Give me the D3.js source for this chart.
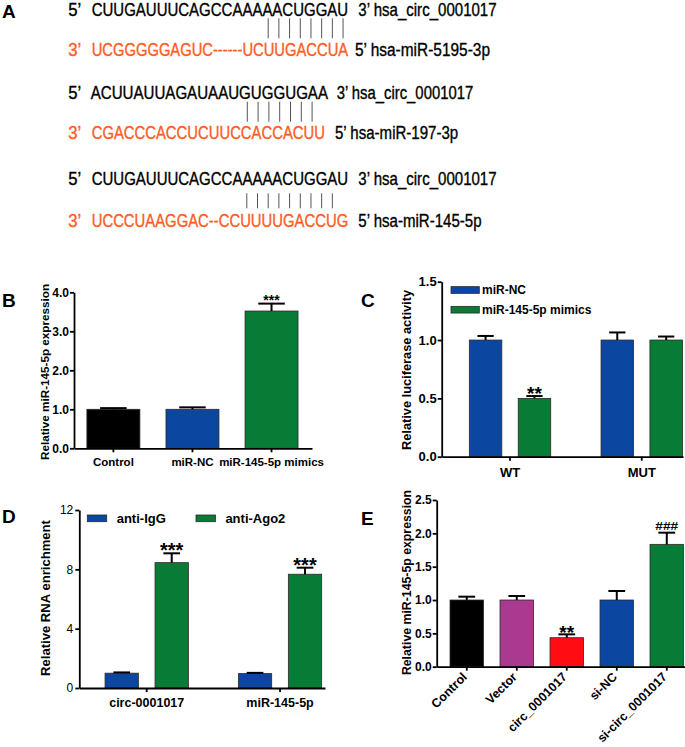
<!DOCTYPE html>
<html>
<head>
<meta charset="utf-8">
<script src="https://cdn.jsdelivr.net/npm/d3@7"></script>
<style>
  html, body { margin: 0; padding: 0; background: #fff; }
  svg { display: block; }
  text { font-family: "Liberation Sans", Arial, Helvetica, sans-serif; }
</style>
</head>
<body>
<svg id="fig" width="685" height="747"></svg>
<script>
// ---------------- DATA ----------------
// Panel A: sequence alignments
const seqPrimes = ["5’", "3’", "5’", "3’", "5’", "3’"];
const seqStrings = [
  "CUUGAUUUCAGCCAAAAACUGGAU",
  "UCGGGGGAGUC------UCUUGACCUA",
  "ACUUAUUAGAUAAUGUGGUGAA",
  "CGACCCACCUCUUCCACCACUU",
  "CUUGAUUUCAGCCAAAAACUGGAU",
  "UCCCUAAGGAC--CCUUUUGACCUG"
];
const seqNames = [
  "3’ hsa_circ_0001017",
  "5’ hsa-miR-5195-3p",
  "3’ hsa_circ_0001017",
  "5’ hsa-miR-197-3p",
  "3’ hsa_circ_0001017",
  "5’ hsa-miR-145-5p"
];
const pairStart = [16, 14, 14];   // first paired nucleotide index in circ row
const pairCount = [8, 7, 9];      // number of base-pair lines

// Panel B
const bCats = ["Control", "miR-NC", "miR-145-5p mimics"];
const bVals = [1.0, 1.0, 3.52];
const bErrs = [0.03, 0.05, 0.19];
const bSig  = ["", "", "***"];
const bTicks = [0, 1, 2, 3, 4];

// Panel C
const cGroups = ["WT", "MUT"];
const cSeries = ["miR-NC", "miR-145-5p mimics"];
const cNC     = [1.0, 1.0];
const cNCErr  = [0.035, 0.065];
const cMim    = [0.5, 1.0];
const cMimErr = [0.02, 0.03];
const cSig    = [["", "**"], ["", ""]];
const cTicks  = [0, 0.5, 1.0, 1.5];

// Panel D
const dGroups = ["circ-0001017", "miR-145-5p"];
const dSeries = ["anti-IgG", "anti-Ago2"];
const dIgG    = [1.0, 0.97];
const dIgGErr = [0.05, 0.05];
const dAgo    = [8.45, 7.67];
const dAgoErr = [0.63, 0.44];
const dSig    = [["", "***"], ["", "***"]];
const dTicks  = [0, 4, 8, 12];

// Panel E
const eCats  = ["Control", "Vector", "circ_0001017", "si-NC", "si-circ_0001017"];
const eVals  = [1.0, 1.0, 0.435, 1.0, 1.835];
const eErrs  = [0.05, 0.06, 0.05, 0.135, 0.175];
const eSig   = ["", "", "**", "", "###"];
const eTicks = [0, 0.5, 1.0, 1.5, 2.0, 2.5];

// ---------------- STYLE ----------------
const BLACK = "#000000", BLUE = "#0b47a1", GREEN = "#087b37",
      PURPLE = "#aa3a90", RED = "#ff0d12", ORANGE = "#ff5c1e";
const FONT = '"Liberation Sans", Arial, Helvetica, sans-serif';

const svg = d3.select("#fig");

function panelLetter(t, x, y) {
  svg.append("text").attr("x", x).attr("y", y).text(t)
    .attr("font-size", 19).attr("font-weight", "bold").attr("fill", "#000");
}

function styleAxis(g, fs, weight) {
  g.select(".domain").attr("stroke", "#000").attr("stroke-width", 1.8);
  g.selectAll(".tick line").attr("stroke", "#000").attr("stroke-width", 1.8);
  g.selectAll(".tick text").attr("font-size", fs).attr("font-weight", weight)
    .attr("fill", "#000").attr("font-family", FONT);
}

function yLabel(t, x, cy, fs) {
  svg.append("text").attr("transform", `translate(${x},${cy}) rotate(-90)`)
    .attr("text-anchor", "middle").attr("font-size", fs).attr("font-weight", "bold")
    .attr("fill", "#000").text(t);
}

function bar(g, x, w, y, y0, color) {
  g.append("rect").attr("x", x).attr("y", y).attr("width", w).attr("height", y0 - y)
    .attr("fill", color).attr("stroke", "#2a2a2a").attr("stroke-width", 0.8);
}

function errBar(g, cx, w, yTop, yErr) {
  g.append("line").attr("x1", cx).attr("x2", cx).attr("y1", yTop).attr("y2", yErr)
    .attr("stroke", "#000").attr("stroke-width", 2);
  g.append("line").attr("x1", cx - w / 4).attr("x2", cx + w / 4).attr("y1", yErr).attr("y2", yErr)
    .attr("stroke", "#000").attr("stroke-width", 2);
}

function sig(g, t, cx, yErr, fs, off) {
  if (!t) return;
  g.append("text").attr("x", cx).attr("text-anchor", "middle")
    .attr("font-size", fs).attr("font-weight", "bold").attr("fill", "#000").text(t)
    .attr("y", yErr - off + 0.57 * fs);
}

// ---------------- PANEL A ----------------
panelLetter("A", 2, 18);
const aBase = [16, 56, 99, 139, 185, 227];
const aSeqX = [91.7, 91.7, 90.7, 91.7, 91.7, 91.7];
const aSeqW = [256.7, 256.7, 237.6, 233.3, 256.7, 256.7];
const aNameX = [358.3, 355, 336.7, 335, 358.3, 358.3];
const aNameW = [138.4, 135, 136.6, 123.3, 138.4, 123.4];
const aFS = 17.5;
const gA = svg.append("g");

// draw text squeezed horizontally to a target width (narrow-font look)
function narrowText(t, x, y, w, col) {
  const el = gA.append("text").attr("x", 0).attr("y", 0).attr("font-size", aFS)
    .attr("fill", col).attr("stroke", col).attr("stroke-width", 0.35).text(t);
  const nat = el.node().getComputedTextLength();
  el.attr("transform", `translate(${x},${y}) scale(${w / nat},1)`);
}

seqStrings.forEach((s, i) => {
  const isMiR = i % 2 === 1;
  const col = isMiR ? ORANGE : BLACK;
  narrowText(seqPrimes[i], 68.3, aBase[i], 13.0, col);
  narrowText(s, aSeqX[i], aBase[i], aSeqW[i], col);
  narrowText(seqNames[i], aNameX[i], aBase[i], aNameW[i], BLACK);
});
// base-pair lines
const pairY = [[18.3, 38.3], [101.7, 121.7], [193.3, 208.3]];
pairStart.forEach((st, k) => {
  const row = k * 2;
  const s = seqStrings[row];
  const cw = aSeqW[row] / s.length;
  d3.range(pairCount[k]).forEach(j => {
    const cx = aSeqX[row] + (st + j + 0.5) * cw;
    gA.append("line").attr("x1", cx).attr("x2", cx)
      .attr("y1", pairY[k][0]).attr("y2", pairY[k][1])
      .attr("stroke", "#555").attr("stroke-width", 1);
  });
});

// ---------------- PANEL B ----------------
panelLetter("B", 2, 307);
(function () {
  const g = svg.append("g");
  const y = d3.scaleLinear().domain([0, 4]).range([448.3, 292.3]);
  const x = d3.scaleBand().domain(bCats).range([74, 312]).paddingInner(0.33).paddingOuter(0.17).align(0.48);
  const colors = [BLACK, BLUE, GREEN];
  bCats.forEach((c, i) => {
    bar(g, x(c), x.bandwidth(), y(bVals[i]), y(0), colors[i]);
    const cx = x(c) + x.bandwidth() / 2;
    errBar(g, cx, x.bandwidth(), y(bVals[i]), y(bVals[i] + bErrs[i]));
    sig(g, bSig[i], cx, y(bVals[i] + bErrs[i]), 14, 6.6);
  });
  const ya = g.append("g").attr("transform", "translate(74,0)")
    .call(d3.axisLeft(y).tickValues(bTicks).tickFormat(d3.format(".1f")).tickSize(4).tickPadding(1).tickSizeOuter(0));
  styleAxis(ya, 12, "bold");
  const xa = g.append("g").attr("transform", `translate(0,${y(0)})`)
    .call(d3.axisBottom(x).tickSize(4).tickPadding(5.5).tickSizeOuter(0));
  styleAxis(xa, 11.5, "bold");
  yLabel("Relative miR-145-5p expression", 49, 372, 11.7);
})();

// ---------------- PANEL C ----------------
panelLetter("C", 361, 307);
(function () {
  const g = svg.append("g");
  const y = d3.scaleLinear().domain([0, 1.5]).range([456.7, 281.7]);
  const x0 = d3.scaleBand().domain(cGroups).range([441.7, 683]).paddingInner(0.382).paddingOuter(0.107).align(0.98);
  const x1 = d3.scaleBand().domain(cSeries).range([0, x0.bandwidth()]).paddingInner(0.335);
  const series = [[cNC, cNCErr, BLUE], [cMim, cMimErr, GREEN]];
  cGroups.forEach((gr, i) => {
    cSeries.forEach((s, j) => {
      const [vals, errs, col] = series[j];
      const bx = x0(gr) + x1(s);
      bar(g, bx, x1.bandwidth(), y(vals[i]), y(0), col);
      const cx = bx + x1.bandwidth() / 2;
      errBar(g, cx, x1.bandwidth(), y(vals[i]), y(vals[i] + errs[i]));
      sig(g, cSig[i][j], cx, y(vals[i] + errs[i]), 19, 6.4);
    });
  });
  const ya = g.append("g").attr("transform", "translate(441.7,0)")
    .call(d3.axisLeft(y).tickValues(cTicks).tickFormat(d3.format(".1f")).tickSize(4).tickPadding(1).tickSizeOuter(0));
  styleAxis(ya, 13, "bold");
  const xa = g.append("g").attr("transform", `translate(0,${y(0)})`)
    .call(d3.axisBottom(x0).tickSize(4).tickPadding(6.6).tickSizeOuter(0));
  styleAxis(xa, 13, "bold");
  yLabel("Relative luciferase activity", 411, 370, 12.8);
  // legend
  const lc = [BLUE, GREEN], ly = [290, 309.7];
  cSeries.forEach((s, j) => {
    g.append("rect").attr("x", 451).attr("y", ly[j] - 3.35).attr("width", 28.3).attr("height", 6.7)
      .attr("fill", lc[j]).attr("stroke", "#2a2a2a").attr("stroke-width", 0.8);
    g.append("text").attr("x", 482).attr("y", ly[j] + 4.3).attr("font-size", 12)
      .attr("font-weight", "bold").attr("fill", "#000").text(s);
  });
})();

// ---------------- PANEL D ----------------
panelLetter("D", 2, 523);
(function () {
  const g = svg.append("g");
  const y = d3.scaleLinear().domain([0, 12]).range([688, 510]);
  const x0 = d3.scaleBand().domain(dGroups).range([79.3, 325]).paddingInner(0.375).paddingOuter(0.109).align(0.886);
  const x1 = d3.scaleBand().domain(dSeries).range([0, x0.bandwidth()]).paddingInner(0.333);
  const series = [[dIgG, dIgGErr, BLUE], [dAgo, dAgoErr, GREEN]];
  dGroups.forEach((gr, i) => {
    dSeries.forEach((s, j) => {
      const [vals, errs, col] = series[j];
      const bx = x0(gr) + x1(s);
      bar(g, bx, x1.bandwidth(), y(vals[i]), y(0), col);
      const cx = bx + x1.bandwidth() / 2;
      errBar(g, cx, x1.bandwidth(), y(vals[i]), y(vals[i] + errs[i]));
      sig(g, dSig[i][j], cx, y(vals[i] + errs[i]), 20, 7.5);
    });
  });
  const ya = g.append("g").attr("transform", "translate(79.3,0)")
    .call(d3.axisLeft(y).tickValues(dTicks).tickFormat(d3.format("d")).tickSize(4).tickPadding(2).tickSizeOuter(0));
  styleAxis(ya, 12, "normal");
  const xa = g.append("g").attr("transform", `translate(0,${y(0)})`)
    .call(d3.axisBottom(x0).tickSize(4).tickPadding(6.1).tickSizeOuter(0));
  styleAxis(xa, 12.5, "bold");
  yLabel("Relative RNA enrichment", 50, 598, 13.1);
  // legend
  const lx = [87.3, 196], lc = [BLUE, GREEN];
  dSeries.forEach((s, j) => {
    g.append("rect").attr("x", lx[j]).attr("y", 515).attr("width", 19.4).attr("height", 6.7)
      .attr("fill", lc[j]).attr("stroke", "#2a2a2a").attr("stroke-width", 0.8);
    g.append("text").attr("x", lx[j] + 29.4).attr("y", 523).attr("font-size", 13)
      .attr("font-weight", "bold").attr("fill", "#000").text(s);
  });
})();

// ---------------- PANEL E ----------------
panelLetter("E", 361, 525);
(function () {
  const g = svg.append("g");
  const y = d3.scaleLinear().domain([0, 2.5]).range([666.7, 500]);
  const x = d3.scaleBand().domain(eCats).range([436.7, 685]).paddingInner(0.33).paddingOuter(0.148).align(0.9);
  const colors = [BLACK, PURPLE, RED, BLUE, GREEN];
  eCats.forEach((c, i) => {
    bar(g, x(c), x.bandwidth(), y(eVals[i]), y(0), colors[i]);
    const cx = x(c) + x.bandwidth() / 2;
    errBar(g, cx, x.bandwidth(), y(eVals[i]), y(eVals[i] + eErrs[i]));
    if (eSig[i] === "###") {
      g.append("text").attr("x", cx).attr("text-anchor", "middle")
        .attr("y", y(eVals[i] + eErrs[i]) - 7 + 3.9)
        .attr("font-size", 11).attr("font-weight", "bold").attr("fill", "#000")
        .attr("transform", `translate(${cx},0) scale(1.25,1) translate(${-cx},0)`)
        .text(eSig[i]);
    } else {
      sig(g, eSig[i], cx, y(eVals[i] + eErrs[i]), 19, 6);
    }
  });
  const ya = g.append("g").attr("transform", "translate(436.7,0)")
    .call(d3.axisLeft(y).tickValues(eTicks).tickFormat(d3.format(".1f")).tickSize(4).tickPadding(1).tickSizeOuter(0));
  styleAxis(ya, 12, "bold");
  const xa = g.append("g").attr("transform", `translate(0,${y(0)})`)
    .call(d3.axisBottom(x).tickSize(4).tickSizeOuter(0));
  styleAxis(xa, 12.5, "bold");
  xa.selectAll(".tick text")
    .attr("text-anchor", "end").attr("dy", null).attr("y", null)
    .attr("transform", "translate(1,11) rotate(-45)");
  yLabel("Relative miR-145-5p expression", 411, 582.5, 12.3);
})();
</script>
</body>
</html>
